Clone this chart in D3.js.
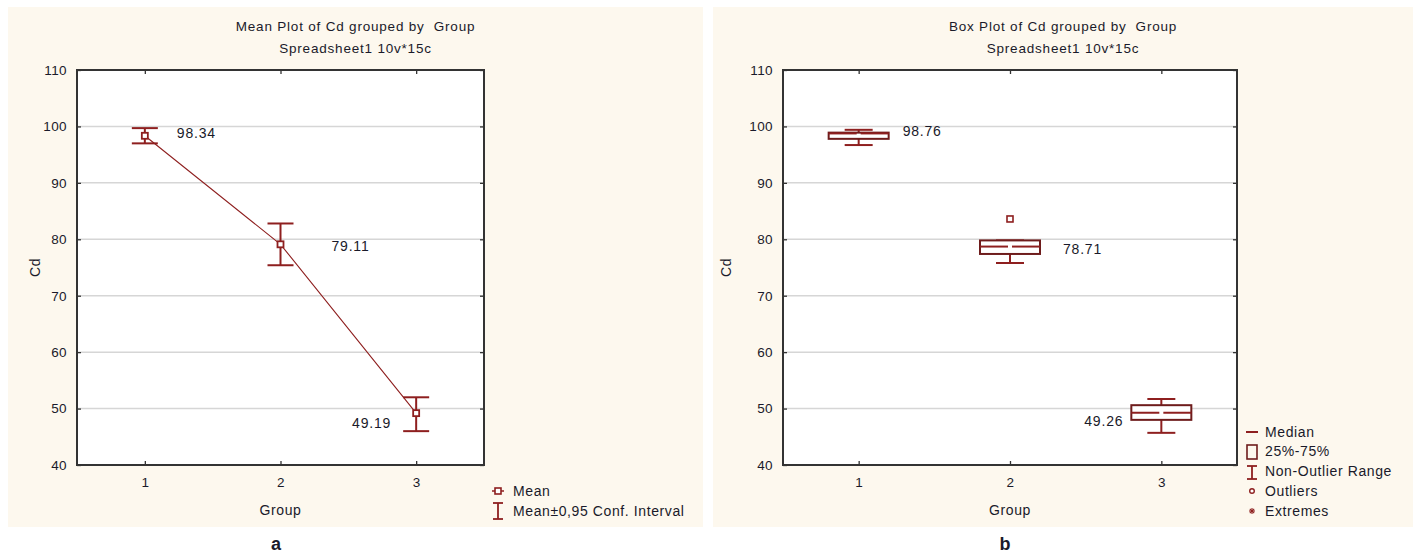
<!DOCTYPE html>
<html>
<head>
<meta charset="utf-8">
<script src="https://cdn.jsdelivr.net/npm/d3@7"></script>
<style>
  html, body { margin: 0; padding: 0; background: #ffffff; }
  svg { display: block; }
  text { font-family: "Liberation Sans", Arial, sans-serif; fill: #1a1a2a; white-space: pre; }
</style>
</head>
<body>
<svg id="chart" width="1413" height="553"></svg>
<script>
// Cd by group: category labels and y ticks
const groups = [1, 2, 3];
const yTicks = [40, 50, 60, 70, 80, 90, 100, 110];

// Mean plot series
const means = [98.34, 79.11, 49.19];
const ciLow = [97.0, 75.4, 46.0];
const ciHigh = [99.7, 82.8, 52.0];

// Box plot series
const medians = [98.76, 78.71, 49.26];
const q1 = [97.8, 77.4, 48.0];
const q3 = [98.9, 79.8, 50.6];
const whiskerLow = [96.7, 75.8, 45.7];
const whiskerHigh = [99.4, 79.8, 51.7];
const outlierGroups = [2];
const outlierValues = [83.6];

const RED = "#8e1f1f";
const BOX = "#6e1c1c";
const svg = d3.select("#chart");

function panel(opt) {
  const g = svg.append("g");
  g.append("rect")
    .attr("x", opt.bg[0]).attr("y", opt.bg[1])
    .attr("width", opt.bg[2]).attr("height", opt.bg[3])
    .attr("fill", "#fdf8ee");

  const [l, t, r, b] = opt.plot;
  const x = d3.scaleLinear().domain([0.5, 3.5]).range([l, r]);
  const y = d3.scaleLinear().domain([40, 110]).range([b, t]);

  g.append("rect").attr("x", l).attr("y", t).attr("width", r - l).attr("height", b - t)
    .attr("fill", "#ffffff");

  // horizontal grid
  g.append("g").selectAll("line")
    .data(yTicks.filter(v => v > 40 && v < 110))
    .join("line")
    .attr("x1", l).attr("x2", r)
    .attr("y1", d => y(d)).attr("y2", d => y(d))
    .attr("stroke", "#d6d6d6").attr("stroke-width", 1.5);

  // axes with inward ticks on all four sides
  const axLeft = g.append("g").attr("transform", `translate(${l},0)`)
    .call(d3.axisLeft(y).tickValues(yTicks).tickSize(-4).tickPadding(10).tickFormat(d3.format("d")));
  const axRight = g.append("g").attr("transform", `translate(${r},0)`)
    .call(d3.axisRight(y).tickValues(yTicks).tickSize(-4).tickFormat(""));
  const axBottom = g.append("g").attr("transform", `translate(0,${b})`)
    .call(d3.axisBottom(x).tickValues(groups).tickSize(-4).tickPadding(12).tickFormat(d3.format("d")));
  const axTop = g.append("g").attr("transform", `translate(0,${t})`)
    .call(d3.axisTop(x).tickValues(groups).tickSize(-4).tickFormat(""));
  [axLeft, axRight, axBottom, axTop].forEach(a => {
    a.select(".domain").remove();
    a.selectAll(".tick line").attr("stroke", "#333").attr("stroke-width", 1.3);
    a.selectAll(".tick text").attr("font-size", 13.5).attr("letter-spacing", 0.4)
      .attr("fill", "#1a1a2a").attr("font-family", "Liberation Sans, Arial, sans-serif");
  });

  g.append("rect").attr("x", l).attr("y", t).attr("width", r - l).attr("height", b - t)
    .attr("fill", "none").attr("stroke", "#333").attr("stroke-width", 2);

  // titles
  const cx = opt.bg[0] + opt.bg[2] / 2;
  g.append("text").attr("x", cx).attr("y", 31).attr("text-anchor", "middle")
    .attr("font-size", 13.5).attr("letter-spacing", 0.8).text(opt.title);
  g.append("text").attr("x", cx).attr("y", 53).attr("text-anchor", "middle")
    .attr("font-size", 13.5).attr("letter-spacing", 0.8).text("Spreadsheet1 10v*15c");

  // axis titles
  g.append("text").attr("x", (l + r) / 2).attr("y", 515).attr("text-anchor", "middle")
    .attr("font-size", 14).attr("letter-spacing", 0.6).text("Group");
  g.append("text").attr("transform", `translate(${opt.ylabX},${(t + b) / 2}) rotate(-90)`)
    .attr("text-anchor", "middle").attr("font-size", 14).attr("letter-spacing", 0.6).text("Cd");

  // panel letter
  g.append("text").attr("x", opt.letterX).attr("y", 550).attr("text-anchor", "middle")
    .attr("font-family", "Liberation Serif, Times New Roman, serif")
    .attr("font-weight", "bold").attr("font-size", 18).attr("fill", "#000").text(opt.letter);

  return { g, x, y };
}

/* ---------- a: mean plot ---------- */
{
  const { g, x, y } = panel({
    bg: [8, 7, 695, 520], plot: [77, 70, 484, 465],
    title: "Mean Plot of Cd grouped by  Group", ylabX: 40, letter: "a", letterX: 276
  });

  g.append("path")
    .datum(groups.map((gr, i) => [gr, means[i]]))
    .attr("d", d3.line().x(d => x(d[0])).y(d => y(d[1])))
    .attr("fill", "none").attr("stroke", RED).attr("stroke-width", 1.1);

  const bars = g.append("g").selectAll("g").data(groups).join("g")
    .attr("stroke", RED).attr("stroke-width", 2).attr("fill", "none");
  bars.append("line").attr("x1", d => x(d)).attr("x2", d => x(d))
    .attr("y1", (d, i) => y(ciLow[i])).attr("y2", (d, i) => y(ciHigh[i]));
  bars.append("line").attr("x1", d => x(d) - 13).attr("x2", d => x(d) + 13)
    .attr("y1", (d, i) => y(ciHigh[i])).attr("y2", (d, i) => y(ciHigh[i]));
  bars.append("line").attr("x1", d => x(d) - 13).attr("x2", d => x(d) + 13)
    .attr("y1", (d, i) => y(ciLow[i])).attr("y2", (d, i) => y(ciLow[i]));

  g.append("g").selectAll("rect").data(groups).join("rect")
    .attr("x", d => x(d) - 3).attr("y", (d, i) => y(means[i]) - 3)
    .attr("width", 6).attr("height", 6)
    .attr("fill", "#fff").attr("stroke", RED).attr("stroke-width", 1.8);

  // value labels: right of the first two means, left of the last
  const lab = [{ dx: 32, dy: 2, anchor: "start" }, { dx: 51, dy: 7, anchor: "start" }, { dx: -25, dy: 15, anchor: "end" }];
  g.append("g").selectAll("text").data(groups).join("text")
    .attr("x", (d, i) => x(d) + lab[i].dx).attr("y", (d, i) => y(means[i]) + lab[i].dy)
    .attr("text-anchor", (d, i) => lab[i].anchor)
    .attr("font-size", 14).attr("letter-spacing", 0.8)
    .text((d, i) => means[i].toFixed(2));

  // legend
  const lg = g.append("g").attr("transform", "translate(498,0)");
  lg.append("line").attr("x1", -6).attr("x2", 6).attr("y1", 491).attr("y2", 491)
    .attr("stroke", RED).attr("stroke-width", 1.5);
  lg.append("rect").attr("x", -3).attr("y", 488).attr("width", 6).attr("height", 6)
    .attr("fill", "#fff").attr("stroke", RED).attr("stroke-width", 1.6);
  lg.append("text").attr("x", 15).attr("y", 496).attr("font-size", 14).attr("letter-spacing", 0.6).text("Mean");
  const ib = lg.append("g").attr("stroke", RED).attr("stroke-width", 1.8);
  ib.append("line").attr("x1", 0).attr("x2", 0).attr("y1", 503).attr("y2", 519);
  ib.append("line").attr("x1", -5).attr("x2", 5).attr("y1", 503).attr("y2", 503);
  ib.append("line").attr("x1", -5).attr("x2", 5).attr("y1", 519).attr("y2", 519);
  lg.append("text").attr("x", 15).attr("y", 516).attr("font-size", 14).attr("letter-spacing", 0.6)
    .text("Mean±0,95 Conf. Interval");
}

/* ---------- b: box plot ---------- */
{
  const { g, x, y } = panel({
    bg: [713, 7, 700, 520], plot: [783, 70, 1237, 465],
    title: "Box Plot of Cd grouped by  Group", ylabX: 731, letter: "b", letterX: 1005
  });

  const bw = 30, cw = 14;
  const boxes = g.append("g").selectAll("g").data(groups).join("g");
  // whiskers
  boxes.append("line").attr("x1", d => x(d)).attr("x2", d => x(d))
    .attr("y1", (d, i) => y(q3[i])).attr("y2", (d, i) => y(whiskerHigh[i]))
    .attr("stroke", RED).attr("stroke-width", 2);
  boxes.append("line").attr("x1", d => x(d)).attr("x2", d => x(d))
    .attr("y1", (d, i) => y(q1[i])).attr("y2", (d, i) => y(whiskerLow[i]))
    .attr("stroke", RED).attr("stroke-width", 2);
  boxes.append("line").attr("x1", d => x(d) - cw).attr("x2", d => x(d) + cw)
    .attr("y1", (d, i) => y(whiskerHigh[i])).attr("y2", (d, i) => y(whiskerHigh[i]))
    .attr("stroke", RED).attr("stroke-width", 2);
  boxes.append("line").attr("x1", d => x(d) - cw).attr("x2", d => x(d) + cw)
    .attr("y1", (d, i) => y(whiskerLow[i])).attr("y2", (d, i) => y(whiskerLow[i]))
    .attr("stroke", RED).attr("stroke-width", 2);
  // boxes
  boxes.append("rect").attr("x", d => x(d) - bw).attr("width", 2 * bw)
    .attr("y", (d, i) => y(q3[i])).attr("height", (d, i) => y(q1[i]) - y(q3[i]))
    .attr("fill", "#fff").attr("stroke", BOX).attr("stroke-width", 2);
  // medians, split at the centre
  boxes.append("line").attr("x1", d => x(d) - bw).attr("x2", d => x(d) - 2)
    .attr("y1", (d, i) => y(medians[i])).attr("y2", (d, i) => y(medians[i]))
    .attr("stroke", RED).attr("stroke-width", 2);
  boxes.append("line").attr("x1", d => x(d) + 2).attr("x2", d => x(d) + bw)
    .attr("y1", (d, i) => y(medians[i])).attr("y2", (d, i) => y(medians[i]))
    .attr("stroke", RED).attr("stroke-width", 2);

  // outliers
  g.append("g").selectAll("rect").data(outlierGroups).join("rect")
    .attr("x", d => x(d) - 3).attr("y", (d, i) => y(outlierValues[i]) - 3)
    .attr("width", 6).attr("height", 6)
    .attr("fill", "#fff").attr("stroke", RED).attr("stroke-width", 1.6);

  // median labels
  const lab = [{ dx: 44, dy: 3, anchor: "start" }, { dx: 53, dy: 7, anchor: "start" }, { dx: -38, dy: 13, anchor: "end" }];
  g.append("g").selectAll("text").data(groups).join("text")
    .attr("x", (d, i) => x(d) + lab[i].dx).attr("y", (d, i) => y(medians[i]) + lab[i].dy)
    .attr("text-anchor", (d, i) => lab[i].anchor)
    .attr("font-size", 14).attr("letter-spacing", 0.8)
    .text((d, i) => medians[i].toFixed(2));

  // legend
  const lx = 1252, tx = 1265;
  const lg = g.append("g");
  lg.append("line").attr("x1", lx - 6).attr("x2", lx + 6).attr("y1", 432).attr("y2", 432)
    .attr("stroke", RED).attr("stroke-width", 2);
  lg.append("text").attr("x", tx).attr("y", 437).attr("font-size", 14).attr("letter-spacing", 0.6).text("Median");
  lg.append("rect").attr("x", lx - 5).attr("y", 445).attr("width", 10).attr("height", 14)
    .attr("fill", "none").attr("stroke", BOX).attr("stroke-width", 1.6);
  lg.append("text").attr("x", tx).attr("y", 456).attr("font-size", 14).attr("letter-spacing", 0.6).text("25%-75%");
  const ib = lg.append("g").attr("stroke", RED).attr("stroke-width", 1.8);
  ib.append("line").attr("x1", lx).attr("x2", lx).attr("y1", 466).attr("y2", 479);
  ib.append("line").attr("x1", lx - 5).attr("x2", lx + 5).attr("y1", 466).attr("y2", 466);
  ib.append("line").attr("x1", lx - 5).attr("x2", lx + 5).attr("y1", 479).attr("y2", 479);
  lg.append("text").attr("x", tx).attr("y", 476).attr("font-size", 14).attr("letter-spacing", 0.6).text("Non-Outlier Range");
  lg.append("circle").attr("cx", lx).attr("cy", 491).attr("r", 2.3)
    .attr("fill", "#fff").attr("stroke", RED).attr("stroke-width", 1.4);
  lg.append("text").attr("x", tx).attr("y", 496).attr("font-size", 14).attr("letter-spacing", 0.6).text("Outliers");
  // extremes symbol: small asterisk
  const star = lg.append("g").attr("stroke", RED).attr("stroke-width", 1.1);
  star.append("line").attr("x1", lx - 3).attr("x2", lx + 3).attr("y1", 511).attr("y2", 511);
  star.append("line").attr("x1", lx).attr("x2", lx).attr("y1", 508).attr("y2", 514);
  star.append("line").attr("x1", lx - 2.2).attr("x2", lx + 2.2).attr("y1", 508.8).attr("y2", 513.2);
  star.append("line").attr("x1", lx - 2.2).attr("x2", lx + 2.2).attr("y1", 513.2).attr("y2", 508.8);
  lg.append("text").attr("x", tx).attr("y", 516).attr("font-size", 14).attr("letter-spacing", 0.6).text("Extremes");
}
</script>
</body>
</html>
